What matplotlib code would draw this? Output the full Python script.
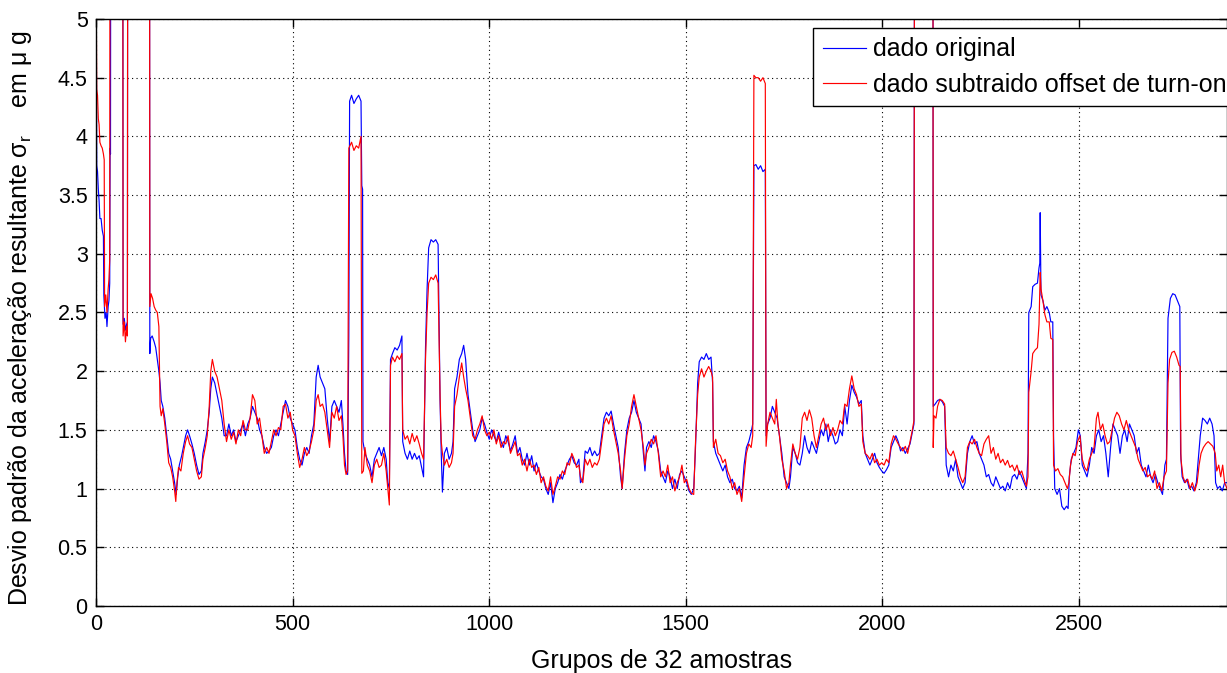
import matplotlib
matplotlib.use('Agg')
import matplotlib.pyplot as plt
from matplotlib.ticker import FuncFormatter

# values (off-scale parts set to 8, clipped by ylim)
blue_pts = [
    (0, 5.6), (1, 4.8), (2, 3.75), (4, 3.7), (6, 3.55), (8, 3.45), (10, 3.3), (13, 3.3), (16, 3.2), (19, 3.15),
    (20, 2.65), (23, 2.45), (26, 2.5), (28, 2.38), (31, 2.55), (33, 2.6), (35, 2.75), (36, 3.9), (37, 3.85), (38, 8),
    (68, 8), (69, 2.4), (72, 2.45), (75, 2.35), (78, 2.4), (80, 2.42), (81, 8), (136, 8), (137, 2.15), (139, 2.28),
    (143, 2.3), (148, 2.25), (152, 2.2), (156, 2.1), (160, 2.0), (163, 1.9), (166, 1.75), (170, 1.7), (175, 1.6), (180, 1.45),
    (185, 1.3), (190, 1.25), (195, 1.15), (200, 1.05), (204, 0.95), (208, 1.1), (212, 1.2), (218, 1.28), (222, 1.35), (228, 1.45),
    (233, 1.5), (238, 1.45), (244, 1.38), (250, 1.3), (256, 1.2), (262, 1.12), (268, 1.15), (272, 1.3), (278, 1.4), (283, 1.5),
    (288, 1.65), (292, 1.85), (296, 1.95), (302, 1.9), (308, 1.8), (314, 1.7), (320, 1.6), (326, 1.45), (332, 1.45), (338, 1.55),
    (344, 1.45), (350, 1.5), (356, 1.4), (362, 1.45), (368, 1.5), (374, 1.55), (380, 1.45), (386, 1.55), (392, 1.6), (398, 1.7),
    (404, 1.65), (410, 1.6), (416, 1.5), (422, 1.45), (428, 1.35), (434, 1.3), (440, 1.32), (446, 1.35), (452, 1.45), (458, 1.5),
    (464, 1.45), (470, 1.55), (476, 1.65), (482, 1.75), (488, 1.7), (494, 1.6), (500, 1.55), (506, 1.5), (512, 1.35), (518, 1.25),
    (524, 1.2), (530, 1.3), (536, 1.35), (542, 1.3), (548, 1.45), (554, 1.55), (560, 1.95), (565, 2.05), (570, 1.95), (576, 1.9),
    (582, 1.85), (588, 1.6), (594, 1.4), (600, 1.7), (606, 1.75), (612, 1.7), (618, 1.65), (624, 1.75), (628, 1.55), (632, 1.3),
    (636, 1.15), (640, 1.12), (643, 2.3), (645, 4.3), (650, 4.35), (656, 4.28), (662, 4.32), (668, 4.35), (674, 4.3), (676, 3.58),
    (678, 3.55), (679, 1.4), (684, 1.3), (690, 1.25), (696, 1.2), (702, 1.1), (708, 1.25), (714, 1.3), (720, 1.35), (726, 1.28),
    (732, 1.35), (738, 1.25), (742, 1.05), (746, 1.0), (749, 2.1), (754, 2.15), (760, 2.2), (766, 2.18), (772, 2.22), (778, 2.3),
    (780, 1.4), (786, 1.3), (792, 1.25), (798, 1.32), (804, 1.25), (810, 1.3), (816, 1.25), (822, 1.28), (828, 1.18), (833, 1.1),
    (838, 2.2), (842, 2.7), (846, 3.05), (852, 3.12), (858, 3.1), (864, 3.12), (870, 3.08), (875, 1.75), (878, 1.3), (881, 0.97),
    (886, 1.3), (892, 1.35), (898, 1.25), (904, 1.3), (908, 1.4), (912, 1.85), (918, 1.95), (924, 2.1), (930, 2.15), (935, 2.22),
    (940, 2.1), (946, 1.8), (952, 1.65), (958, 1.5), (964, 1.4), (970, 1.45), (976, 1.5), (982, 1.6), (988, 1.55), (994, 1.48),
    (1000, 1.42), (1006, 1.5), (1012, 1.45), (1018, 1.4), (1024, 1.48), (1030, 1.4), (1036, 1.35), (1042, 1.45), (1048, 1.4), (1054, 1.32),
    (1060, 1.38), (1066, 1.45), (1072, 1.3), (1078, 1.35), (1084, 1.25), (1090, 1.2), (1096, 1.3), (1102, 1.2), (1108, 1.28), (1114, 1.15),
    (1120, 1.22), (1126, 1.15), (1132, 1.1), (1138, 1.08), (1144, 1.0), (1150, 0.95), (1156, 1.05), (1162, 0.88), (1168, 1.0), (1174, 1.05),
    (1180, 1.12), (1186, 1.08), (1192, 1.15), (1198, 1.2), (1204, 1.25), (1210, 1.28), (1216, 1.22), (1222, 1.2), (1228, 1.25), (1232, 1.05),
    (1238, 1.08), (1244, 1.32), (1250, 1.3), (1256, 1.35), (1262, 1.28), (1268, 1.32), (1274, 1.28), (1280, 1.3), (1286, 1.45), (1292, 1.6),
    (1298, 1.65), (1304, 1.62), (1310, 1.66), (1316, 1.55), (1322, 1.45), (1328, 1.35), (1334, 1.1), (1338, 1.0), (1344, 1.3), (1350, 1.5),
    (1356, 1.6), (1362, 1.65), (1368, 1.75), (1374, 1.65), (1380, 1.6), (1386, 1.55), (1392, 1.3), (1396, 1.15), (1400, 1.35), (1406, 1.4),
    (1412, 1.35), (1418, 1.45), (1424, 1.4), (1430, 1.32), (1436, 1.15), (1442, 1.1), (1448, 1.05), (1454, 1.15), (1460, 1.1), (1466, 1.0),
    (1472, 1.08), (1478, 1.0), (1484, 1.12), (1490, 1.15), (1496, 1.1), (1502, 1.05), (1508, 0.98), (1514, 0.95), (1520, 1.0), (1524, 1.3),
    (1530, 1.9), (1534, 2.08), (1540, 2.12), (1546, 2.1), (1552, 2.15), (1558, 2.1), (1564, 2.12), (1568, 1.9), (1570, 1.4), (1576, 1.3),
    (1582, 1.25), (1588, 1.2), (1594, 1.15), (1600, 1.2), (1606, 1.1), (1612, 1.05), (1618, 1.08), (1624, 1.0), (1630, 0.98), (1636, 1.02),
    (1642, 0.92), (1648, 1.2), (1654, 1.35), (1660, 1.4), (1666, 1.48), (1670, 1.55), (1673, 3.75), (1678, 3.76), (1684, 3.72), (1690, 3.75),
    (1696, 3.7), (1702, 3.72), (1704, 1.45), (1708, 1.55), (1714, 1.6), (1720, 1.7), (1726, 1.65), (1732, 1.6), (1738, 1.45), (1744, 1.3),
    (1750, 1.1), (1756, 1.05), (1762, 1.0), (1766, 1.1), (1772, 1.35), (1778, 1.3), (1784, 1.22), (1790, 1.2), (1796, 1.3), (1802, 1.45),
    (1808, 1.35), (1814, 1.3), (1820, 1.4), (1826, 1.35), (1832, 1.3), (1838, 1.4), (1844, 1.5), (1850, 1.45), (1856, 1.55), (1862, 1.4),
    (1868, 1.5), (1874, 1.45), (1880, 1.38), (1886, 1.4), (1892, 1.5), (1898, 1.45), (1904, 1.7), (1910, 1.55), (1916, 1.75), (1922, 1.88),
    (1928, 1.82), (1934, 1.78), (1940, 1.72), (1946, 1.75), (1950, 1.45), (1956, 1.3), (1962, 1.25), (1968, 1.2), (1974, 1.25), (1980, 1.3),
    (1986, 1.22), (1992, 1.18), (1998, 1.15), (2004, 1.13), (2010, 1.16), (2016, 1.2), (2022, 1.35), (2028, 1.4), (2034, 1.45), (2040, 1.4),
    (2046, 1.32), (2052, 1.35), (2058, 1.3), (2064, 1.34), (2070, 1.38), (2076, 1.48), (2080, 1.55), (2082, 8), (2128, 8), (2129, 1.7),
    (2134, 1.72), (2140, 1.75), (2146, 1.76), (2152, 1.74), (2158, 1.7), (2162, 1.2), (2168, 1.1), (2174, 1.2), (2180, 1.15), (2186, 1.25),
    (2192, 1.1), (2198, 1.05), (2204, 1.0), (2210, 1.05), (2216, 1.3), (2222, 1.4), (2228, 1.45), (2234, 1.38), (2240, 1.4), (2246, 1.3),
    (2252, 1.25), (2258, 1.2), (2264, 1.1), (2270, 1.12), (2276, 1.05), (2282, 1.02), (2288, 1.1), (2294, 1.05), (2300, 1.0), (2306, 1.02),
    (2312, 0.98), (2318, 1.05), (2324, 1.0), (2330, 1.1), (2336, 1.12), (2342, 1.08), (2348, 1.15), (2354, 1.1), (2360, 1.05), (2366, 1.0),
    (2370, 1.3), (2372, 2.5), (2378, 2.55), (2382, 2.72), (2388, 2.74), (2394, 2.75), (2398, 2.88), (2400, 2.92), (2401, 3.35), (2403, 2.65),
    (2408, 2.6), (2413, 2.52), (2418, 2.55), (2424, 2.5), (2428, 2.42), (2433, 2.42), (2435, 1.45), (2438, 1.0), (2444, 0.95), (2450, 1.0),
    (2456, 0.85), (2462, 0.82), (2468, 0.85), (2472, 0.83), (2475, 1.1), (2480, 1.25), (2486, 1.3), (2492, 1.35), (2498, 1.5), (2503, 1.45),
    (2508, 1.2), (2514, 1.15), (2520, 1.1), (2526, 1.2), (2532, 1.35), (2538, 1.3), (2544, 1.45), (2550, 1.5), (2556, 1.4), (2562, 1.45),
    (2568, 1.3), (2574, 1.1), (2580, 1.35), (2586, 1.55), (2592, 1.5), (2598, 1.45), (2604, 1.3), (2610, 1.45), (2616, 1.5), (2622, 1.4),
    (2628, 1.55), (2634, 1.5), (2640, 1.45), (2646, 1.3), (2652, 1.35), (2658, 1.2), (2664, 1.15), (2670, 1.1), (2676, 1.2), (2682, 1.1),
    (2688, 1.05), (2694, 1.12), (2700, 1.05), (2706, 1.0), (2712, 0.95), (2718, 1.2), (2722, 1.25), (2726, 2.45), (2732, 2.62), (2738, 2.66),
    (2744, 2.65), (2750, 2.6), (2756, 2.55), (2758, 1.3), (2762, 1.1), (2768, 1.05), (2774, 1.08), (2780, 1.0), (2786, 1.02), (2792, 0.98),
    (2798, 1.05), (2803, 1.25), (2808, 1.45), (2814, 1.6), (2820, 1.58), (2826, 1.55), (2832, 1.6), (2838, 1.55), (2843, 1.45), (2847, 1.05),
    (2852, 1.0), (2858, 1.02), (2864, 0.98), (2870, 1.05), (2876, 1.05),
]

red_pts = [
    (0, 5.6), (2, 4.4), (4, 4.35), (6, 4.15), (8, 4.1), (10, 3.95), (13, 3.92), (16, 3.9), (19, 3.85), (21, 3.8),
    (22, 2.55), (25, 2.65), (28, 2.5), (31, 2.7), (33, 2.78), (35, 2.95), (36, 8), (68, 8), (69, 2.3), (72, 2.42),
    (75, 2.25), (78, 2.38), (80, 2.3), (81, 8), (136, 8), (137, 2.55), (140, 2.66), (144, 2.62), (148, 2.55), (152, 2.52),
    (156, 2.5), (160, 2.38), (163, 1.7), (166, 1.62), (170, 1.68), (175, 1.55), (180, 1.4), (185, 1.22), (190, 1.18), (195, 1.1),
    (200, 0.98), (203, 0.89), (206, 1.05), (210, 1.18), (216, 1.15), (222, 1.3), (228, 1.4), (233, 1.45), (238, 1.38), (244, 1.35),
    (250, 1.25), (256, 1.15), (262, 1.08), (268, 1.1), (272, 1.25), (278, 1.35), (283, 1.45), (288, 1.7), (292, 2.0), (296, 2.1),
    (302, 2.0), (308, 1.95), (314, 1.85), (320, 1.75), (326, 1.55), (332, 1.4), (338, 1.5), (344, 1.42), (350, 1.48), (356, 1.38),
    (362, 1.5), (368, 1.45), (374, 1.58), (380, 1.5), (386, 1.5), (392, 1.6), (398, 1.8), (404, 1.75), (410, 1.55), (416, 1.6),
    (422, 1.45), (428, 1.3), (434, 1.35), (440, 1.3), (446, 1.4), (452, 1.5), (458, 1.45), (464, 1.52), (470, 1.5), (476, 1.7),
    (482, 1.72), (488, 1.6), (494, 1.65), (500, 1.5), (506, 1.45), (512, 1.3), (518, 1.18), (524, 1.25), (530, 1.35), (536, 1.28),
    (542, 1.32), (548, 1.4), (554, 1.5), (560, 1.75), (565, 1.8), (570, 1.7), (576, 1.72), (582, 1.65), (588, 1.5), (594, 1.35),
    (600, 1.65), (606, 1.6), (612, 1.7), (618, 1.58), (624, 1.62), (628, 1.45), (632, 1.2), (636, 1.12), (640, 1.15), (643, 3.9),
    (650, 3.95), (656, 3.88), (662, 3.92), (668, 3.9), (674, 4.0), (676, 1.13), (680, 1.15), (684, 1.35), (690, 1.2), (696, 1.15),
    (702, 1.05), (708, 1.2), (714, 1.25), (720, 1.18), (726, 1.2), (732, 1.3), (738, 1.15), (742, 1.0), (746, 0.86), (749, 2.05),
    (754, 2.12), (760, 2.08), (766, 2.13), (772, 2.1), (778, 2.15), (780, 1.5), (786, 1.42), (792, 1.45), (798, 1.38), (804, 1.47),
    (810, 1.4), (816, 1.45), (822, 1.38), (828, 1.3), (833, 1.25), (838, 2.1), (842, 2.5), (846, 2.75), (852, 2.8), (858, 2.78),
    (864, 2.82), (870, 2.75), (875, 1.79), (878, 1.4), (881, 1.3), (886, 1.2), (892, 1.25), (898, 1.18), (904, 1.22), (908, 1.3),
    (912, 1.7), (918, 1.8), (924, 1.95), (930, 2.07), (935, 1.95), (940, 1.85), (946, 1.75), (952, 1.6), (958, 1.45), (964, 1.42),
    (970, 1.5), (976, 1.55), (982, 1.62), (988, 1.5), (994, 1.45), (1000, 1.48), (1006, 1.42), (1012, 1.5), (1018, 1.38), (1024, 1.45),
    (1030, 1.35), (1036, 1.4), (1042, 1.38), (1048, 1.45), (1054, 1.3), (1060, 1.35), (1066, 1.4), (1072, 1.28), (1078, 1.3), (1084, 1.2),
    (1090, 1.25), (1096, 1.15), (1102, 1.25), (1108, 1.18), (1114, 1.2), (1120, 1.12), (1126, 1.18), (1132, 1.05), (1138, 1.1), (1144, 1.02),
    (1150, 0.98), (1156, 1.1), (1162, 0.95), (1168, 1.02), (1174, 1.1), (1180, 1.08), (1186, 1.15), (1192, 1.12), (1198, 1.22), (1204, 1.2),
    (1210, 1.3), (1216, 1.25), (1222, 1.18), (1228, 1.2), (1232, 1.1), (1238, 1.05), (1244, 1.25), (1250, 1.2), (1256, 1.25), (1262, 1.18),
    (1268, 1.22), (1274, 1.2), (1280, 1.25), (1286, 1.4), (1292, 1.55), (1298, 1.6), (1304, 1.55), (1310, 1.62), (1316, 1.5), (1322, 1.4),
    (1328, 1.3), (1334, 1.15), (1338, 1.0), (1344, 1.25), (1350, 1.45), (1356, 1.55), (1362, 1.7), (1368, 1.8), (1374, 1.7), (1380, 1.6),
    (1386, 1.5), (1392, 1.35), (1396, 1.2), (1400, 1.3), (1406, 1.35), (1412, 1.42), (1418, 1.38), (1424, 1.45), (1430, 1.3), (1436, 1.1),
    (1442, 1.15), (1448, 1.1), (1454, 1.2), (1460, 1.05), (1466, 1.1), (1472, 0.98), (1478, 1.05), (1484, 1.1), (1490, 1.2), (1496, 1.05),
    (1502, 1.08), (1508, 1.0), (1514, 0.96), (1520, 0.95), (1524, 1.35), (1530, 1.8), (1534, 1.95), (1540, 2.02), (1546, 1.95), (1552, 2.0),
    (1558, 2.04), (1564, 2.0), (1568, 1.95), (1570, 1.35), (1576, 1.42), (1582, 1.3), (1588, 1.28), (1594, 1.22), (1600, 1.25), (1606, 1.15),
    (1612, 1.1), (1618, 1.0), (1624, 1.05), (1630, 0.95), (1636, 1.0), (1642, 0.89), (1648, 1.1), (1654, 1.3), (1660, 1.38), (1666, 1.35),
    (1670, 1.45), (1673, 4.52), (1678, 4.5), (1684, 4.5), (1690, 4.47), (1696, 4.5), (1702, 4.45), (1704, 1.36), (1708, 1.55), (1714, 1.65),
    (1720, 1.6), (1726, 1.55), (1730, 1.76), (1734, 1.55), (1738, 1.45), (1744, 1.25), (1750, 1.15), (1756, 1.0), (1762, 1.05), (1766, 1.2),
    (1772, 1.38), (1778, 1.3), (1784, 1.25), (1790, 1.35), (1796, 1.6), (1802, 1.65), (1808, 1.58), (1814, 1.67), (1820, 1.6), (1826, 1.45),
    (1832, 1.35), (1838, 1.45), (1844, 1.55), (1850, 1.6), (1856, 1.5), (1862, 1.55), (1868, 1.45), (1874, 1.52), (1880, 1.45), (1886, 1.5),
    (1892, 1.58), (1898, 1.55), (1904, 1.72), (1910, 1.7), (1916, 1.85), (1922, 1.96), (1928, 1.85), (1934, 1.8), (1940, 1.7), (1946, 1.72),
    (1950, 1.4), (1956, 1.3), (1962, 1.28), (1968, 1.25), (1974, 1.3), (1980, 1.22), (1986, 1.25), (1992, 1.2), (1998, 1.22), (2004, 1.2),
    (2010, 1.25), (2016, 1.22), (2022, 1.38), (2028, 1.45), (2034, 1.42), (2040, 1.38), (2046, 1.35), (2052, 1.32), (2058, 1.36), (2064, 1.3),
    (2070, 1.4), (2076, 1.5), (2080, 1.58), (2082, 8), (2128, 8), (2129, 1.35), (2131, 1.62), (2136, 1.6), (2140, 1.7), (2146, 1.76),
    (2152, 1.75), (2158, 1.72), (2162, 1.35), (2168, 1.3), (2174, 1.28), (2180, 1.32), (2186, 1.25), (2192, 1.18), (2198, 1.1), (2204, 1.05),
    (2210, 1.1), (2216, 1.35), (2222, 1.4), (2228, 1.38), (2234, 1.42), (2240, 1.35), (2246, 1.3), (2252, 1.28), (2258, 1.38), (2264, 1.42),
    (2270, 1.45), (2276, 1.3), (2282, 1.35), (2288, 1.25), (2294, 1.3), (2300, 1.22), (2306, 1.25), (2312, 1.2), (2318, 1.24), (2324, 1.18),
    (2330, 1.2), (2336, 1.15), (2342, 1.2), (2348, 1.12), (2354, 1.15), (2360, 1.08), (2366, 1.02), (2370, 1.1), (2372, 1.82), (2378, 2.0),
    (2382, 2.15), (2388, 2.18), (2394, 2.2), (2398, 2.4), (2401, 2.84), (2403, 2.7), (2408, 2.6), (2413, 2.48), (2418, 2.42), (2424, 2.42),
    (2428, 2.28), (2433, 2.27), (2435, 1.2), (2440, 1.15), (2446, 1.17), (2452, 1.12), (2458, 1.1), (2464, 1.05), (2470, 1.0), (2474, 1.05),
    (2478, 1.2), (2484, 1.3), (2490, 1.28), (2496, 1.4), (2502, 1.45), (2508, 1.25), (2514, 1.18), (2520, 1.15), (2526, 1.25), (2532, 1.3),
    (2538, 1.35), (2544, 1.6), (2548, 1.65), (2554, 1.5), (2560, 1.55), (2566, 1.45), (2572, 1.38), (2578, 1.4), (2584, 1.5), (2590, 1.6),
    (2596, 1.65), (2602, 1.62), (2608, 1.55), (2614, 1.5), (2620, 1.58), (2626, 1.5), (2632, 1.45), (2638, 1.4), (2644, 1.35), (2650, 1.25),
    (2656, 1.2), (2662, 1.15), (2668, 1.18), (2674, 1.1), (2680, 1.12), (2686, 1.08), (2692, 1.15), (2698, 1.0), (2704, 1.05), (2710, 0.98),
    (2716, 1.1), (2722, 1.15), (2726, 1.9), (2730, 2.1), (2736, 2.16), (2742, 2.17), (2748, 2.12), (2754, 2.05), (2757, 2.04), (2759, 1.25),
    (2764, 1.1), (2770, 1.05), (2776, 1.08), (2782, 1.0), (2788, 1.05), (2794, 0.98), (2800, 1.05), (2805, 1.2), (2810, 1.3), (2816, 1.35),
    (2822, 1.38), (2828, 1.4), (2834, 1.38), (2840, 1.36), (2846, 1.3), (2850, 1.15), (2855, 1.2), (2860, 1.1), (2865, 1.2), (2870, 1.05),
    (2876, 1.0),
]

labels = ['dado original', 'dado subtraido offset de turn-on']
x_ticks = [0, 500, 1000, 1500, 2000, 2500]
y_ticks = [0, 0.5, 1, 1.5, 2, 2.5, 3, 3.5, 4, 4.5, 5]

plt.rcParams['font.family'] = ['Liberation Sans', 'DejaVu Sans']
plt.rcParams['mathtext.fontset'] = 'custom'
plt.rcParams['mathtext.rm'] = 'Liberation Sans'
plt.rcParams['mathtext.it'] = 'Liberation Sans'

fig = plt.figure(figsize=(12.27, 6.73), dpi=100)
ax = fig.add_axes([0.0782, 0.0996, 0.9218, 0.8722])

bx, by = zip(*blue_pts)
rx, ry = zip(*red_pts)
ax.plot(bx, by, color='#0000ff', lw=0.85, label=labels[0])
ax.plot(rx, ry, color='#ff0000', lw=0.85, label=labels[1])

ax.set_xlim(0, 2876)
ax.set_ylim(0, 5)
ax.set_xticks(x_ticks)
ax.set_yticks(y_ticks)
ax.yaxis.set_major_formatter(FuncFormatter(lambda v, p: ('%g' % v)))

# matlab style: dotted grid, ticks inside on all sides
ax.grid(True, color='k', linestyle=(0, (1, 3)), linewidth=0.8)
ax.tick_params(direction='in', top=True, right=True, length=6, width=1,
               labelsize=15.5, pad=6)
for s in ax.spines.values():
    s.set_linewidth(1.0)

ax.set_xlabel('Grupos de 32 amostras', fontsize=18)
ax.xaxis.set_label_coords(0.5, -0.073)
ax.set_ylabel('Desvio padrão da aceleração resultante σ$_{r}$    em μ g', fontsize=18)
ax.yaxis.set_label_coords(-0.055, 0.49)

leg = ax.legend(loc='upper left', bbox_to_anchor=(0.634, 0.985), borderaxespad=0,
                fontsize=18, handlelength=1.75, handletextpad=0.25, labelspacing=0.45,
                fancybox=False, framealpha=1, edgecolor='k', borderpad=0.38)
leg.get_frame().set_linewidth(1.0)

fig.savefig('out.png', dpi=100)
